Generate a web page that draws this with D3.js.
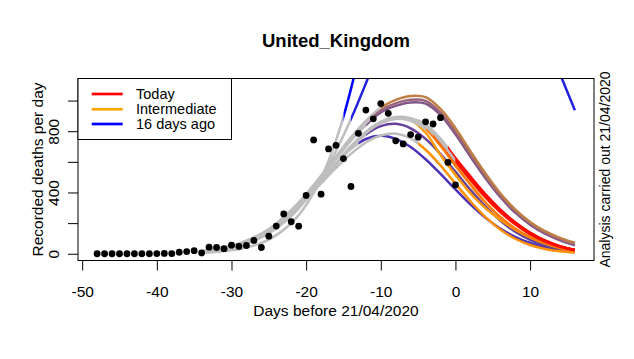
<!DOCTYPE html>
<html>
<head>
<meta charset="utf-8">
<script src="https://cdn.jsdelivr.net/npm/d3@7"></script>
<style>
  html, body { margin: 0; padding: 0; background: #ffffff; }
  svg { display: block; font-family: "Liberation Sans", Arial, Helvetica, sans-serif; }
</style>
</head>
<body>
<svg id="chart" width="634" height="359"></svg>
<script>
// ---------------- data ----------------
const chartTitle = "United_Kingdom";
const xAxisTitle = "Days before 21/04/2020";
const yAxisTitle = "Recorded deaths per day";
const sideNote = "Analysis carried out 21/04/2020";
const legendLabels = ["Today", "Intermediate", "16 days ago"];

const xTicks = [-50, -40, -30, -20, -10, 0, 10];
const yTicks = [0, 200, 400, 600, 800, 1000];
const yTickLabels = ["0", "", "400", "", "800", ""];

// observed daily deaths (days before 21/04/2020)
const obsDays = [-48,-47,-46,-45,-44,-43,-42,-41,-40,-39,-38,-37,-36,-35,-34,-33,-32,-31,-30,-29,-28,-27,-26,-25,-24,-23,-22,-21,-20,-19,-18,-17,-16,-15,-14,-13,-12,-11,-10,-9,-8,-7,-6,-5,-4,-3,-2,-1,0];
const obsDeaths = [0,0,0,0,0,0,0,0,1,2,1,10,14,20,5,43,41,33,56,48,54,87,41,115,181,260,209,180,381,743,389,684,708,621,439,786,938,881,980,917,737,717,778,761,861,847,888,596,449];

// fitted curves, sampled on these days
const curveDays = [-34,-31,-28,-25,-22,-20,-18,-16,-14,-12,-10,-8,-6,-4,-2,0,2,4,6,8,10,12,14,16];
// day at which each fit stops being drawn grey and takes its colour
const fitStartDays = [-15,-14,-13,-12,-12,-11,-10,-7,-5,-4,-3,-2,-1,0];
const fitA  = [6,16,40,92,199,318,493,740,1075,1512,2058];
const fitB  = [13,31,67,133,246,355,497,672,879,1112,1362,1614,1850,2051,2201,2285,2295,2230,2094,1907,1677,1428,1176,937];
const fitC  = [9,26,64,138,257,360,475,588,684,749,770,750,697,617,521,420,322,236,165,110,70,42,24,13];
const fitD  = [14,34,75,148,262,360,471,585,692,778,833,848,819,750,651,536,418,309,217,144,91,54,31,17];
const fitE  = [16,38,80,157,280,382,498,618,738,840,922,965,988,980,905,780,635,495,371,268,190,131,88,56];
const fitF  = [16,38,80,158,282,385,503,625,748,852,937,982,1005,998,922,797,650,508,382,278,199,140,96,64];
const fitG  = [16,38,80,160,285,390,510,635,760,868,955,1005,1030,1022,945,820,670,525,395,290,208,148,104,72];
const fitH  = [15,36,78,151,263,360,470,585,697,790,856,886,872,790,645,515,395,298,222,158,107,68,40,20];
const fitI  = [18,42,86,160,269,360,459,560,652,726,772,784,753,679,576,458,343,241,159,98,57,31,16,8];
const fitJ  = [15,36,78,151,263,360,470,585,697,790,853,880,868,815,705,575,452,335,240,165,108,66,38,19];
const fitK  = [15,36,78,151,263,360,470,585,697,790,856,885,875,830,728,600,480,368,272,192,128,80,46,23];
const fitL  = [15,36,78,151,263,360,470,585,697,790,858,888,880,840,740,612,492,378,280,198,132,83,48,24];
const fitM  = [15,36,78,151,263,362,473,590,702,796,862,892,885,845,752,625,505,390,290,205,138,87,50,25];
const fitN  = [15,36,78,151,263,360,470,585,697,790,856,886,878,835,735,608,488,374,276,195,130,82,47,24];
const fits = [fitA, fitB, fitC, fitD, fitE, fitF, fitG, fitH, fitI, fitJ, fitK, fitL, fitM, fitN];

// ---------------- styles ----------------
const fitColors = ["#0000ff","#2020e0","#4d32b8","#66429c","#80558a","#9a6478","#bf7f44",
                   "#ff9a00","#ff9000","#ff7a00","#ff4800","#ff2000","#ff0000","#ff0800"];
const legendColors = ["#ff0000", "#ffa500", "#0000ff"];
const greyCol = "#bebebe";

// ---------------- layout ----------------
const svg = d3.select("#chart");
const P = { left: 78, right: 594, top: 78.5, bottom: 260.5 };
const x = d3.scaleLinear().domain([-50.56, 18.56]).range([P.left, P.right]);
const y = d3.scaleLinear().domain([-44, 1144]).range([P.bottom, P.top]);
const FS = 15.5;

const defs = svg.append("defs");
const lineGen = d3.line()
  .x(d => x(d.day)).y(d => y(d.value))
  .curve(d3.curveCatmullRom.alpha(0.5));

const curvesG = svg.append("g");
fits.forEach((vals, i) => {
  const pts = vals.map((v, j) => ({ day: curveDays[j], value: v }));
  const k = fitStartDays[i];
  const gid = "cg" + i, cid = "cc" + i;
  defs.append("clipPath").attr("id", gid).append("rect")
    .attr("x", P.left).attr("y", P.top)
    .attr("width", x(k) - P.left).attr("height", P.bottom - P.top);
  defs.append("clipPath").attr("id", cid).append("rect")
    .attr("x", x(k)).attr("y", P.top)
    .attr("width", P.right - x(k)).attr("height", P.bottom - P.top);
  curvesG.append("path").attr("d", lineGen(pts))
    .attr("clip-path", `url(#${gid})`)
    .attr("fill", "none").attr("stroke", greyCol).attr("stroke-width", 2.5);
  curvesG.append("path").attr("d", lineGen(pts))
    .attr("clip-path", `url(#${cid})`)
    .attr("fill", "none").attr("stroke", fitColors[i]).attr("stroke-width", 2.5);
});

// points
svg.append("g").selectAll("circle")
  .data(obsDays.map((d, i) => ({ day: d, value: obsDeaths[i] })))
  .join("circle")
  .attr("cx", d => x(d.day)).attr("cy", d => y(d.value))
  .attr("r", 3.4).attr("fill", "#000");

// box
svg.append("rect").attr("x", P.left).attr("y", P.top)
  .attr("width", P.right - P.left).attr("height", P.bottom - P.top)
  .attr("fill", "none").attr("stroke", "#000").attr("stroke-width", 1);

// x axis
const xAxis = svg.append("g").attr("transform", `translate(0,${P.bottom})`)
  .call(d3.axisBottom(x).tickValues(xTicks).tickSize(10).tickPadding(0)
        .tickFormat(d => String(d)));
xAxis.select(".domain").remove();
xAxis.selectAll(".tick line").attr("stroke", "#000");
xAxis.selectAll(".tick text").attr("y", 36).attr("dy", null)
  .attr("font-size", FS).attr("font-family", "Liberation Sans, Arial, sans-serif").attr("fill", "#000");

// y axis
const yAxis = svg.append("g").attr("transform", `translate(${P.left},0)`)
  .call(d3.axisLeft(y).tickValues(yTicks).tickSize(10).tickFormat((d, i) => yTickLabels[i]));
yAxis.select(".domain").remove();
yAxis.selectAll(".tick line").attr("stroke", "#000");
yAxis.selectAll(".tick text")
  .attr("x", null).attr("dy", null)
  .attr("transform", "translate(-19,0) rotate(-90)")
  .attr("text-anchor", "middle")
  .attr("font-size", FS).attr("font-family", "Liberation Sans, Arial, sans-serif").attr("fill", "#000");

// titles
const midX = (P.left + P.right) / 2, midY = (P.top + P.bottom) / 2;
svg.append("text").attr("x", midX).attr("y", 47).attr("text-anchor", "middle")
  .attr("font-size", 18.5).attr("font-weight", "bold").text(chartTitle);
svg.append("text").attr("x", midX).attr("y", 316).attr("text-anchor", "middle")
  .attr("font-size", FS).text(xAxisTitle);
svg.append("text").attr("transform", `translate(43,${midY}) rotate(-90)`)
  .attr("text-anchor", "middle").attr("font-size", FS).text(yAxisTitle);
svg.append("text").attr("transform", `translate(610,${midY}) rotate(-90)`)
  .attr("text-anchor", "middle").attr("font-size", 14).text(sideNote);

// legend
const lg = svg.append("g");
lg.append("rect").attr("x", P.left).attr("y", P.top).attr("width", 153.5).attr("height", 61)
  .attr("fill", "#fff").attr("stroke", "#000").attr("stroke-width", 1);
const rowY = [94, 109.3, 124];
legendLabels.forEach((lab, i) => {
  lg.append("line").attr("x1", 91.7).attr("x2", 122.7).attr("y1", rowY[i]).attr("y2", rowY[i])
    .attr("stroke", legendColors[i]).attr("stroke-width", 2.7);
  lg.append("text").attr("x", 136).attr("y", rowY[i] + 5).attr("font-size", 14.5).text(lab);
});
</script>
</body>
</html>
